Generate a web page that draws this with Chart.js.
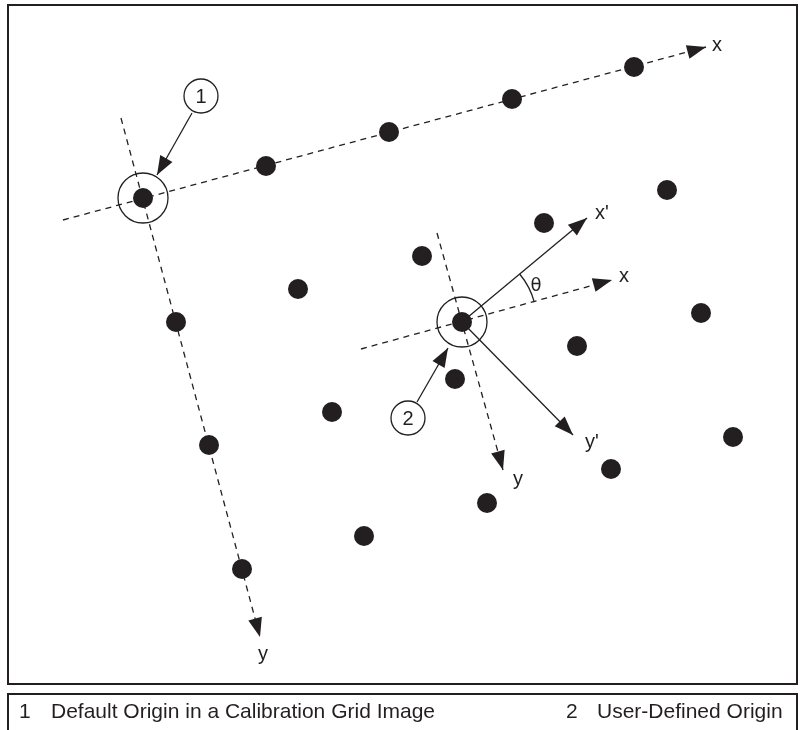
<!DOCTYPE html>
<html>
<head>
<meta charset="utf-8">
<script src="https://cdn.jsdelivr.net/npm/chart.js@4.4.1/dist/chart.umd.min.js"></script>
<style>
  html, body { margin: 0; padding: 0; background: #fff; }
</style>
</head>
<body>
<canvas id="grid" width="800" height="730"></canvas>
<script>
// calibration grid dots, image units (x right, y down)
const gridDots = [
    [143, 198], [266, 166], [389, 132], [512, 99], [634, 67],
    [176, 322], [298, 289], [422, 256], [544, 223], [667, 190],
    [209, 445], [332, 412], [455, 379], [577, 346], [701, 313],
    [242, 569], [364, 536], [487, 503], [611, 469], [733, 437]
];
const defaultOrigin = [143, 198];
const userOrigin = [462, 322];

// axes: [start, tip]
const defaultAxisX = [[63, 220], [706, 47]];
const defaultAxisY = [[121, 118], [260, 637]];
const userAxisX = [[361, 349], [612, 280]];
const userAxisY = [[437, 233], [503, 470]];
const rotatedAxisX = [[462, 322], [587, 218]];
const rotatedAxisY = [[462, 322], [573, 435]];

// numbered callouts: centre, arrow start, arrow tip
const calloutNumbers = ['1', '2'];
const calloutCentres = [[201, 96], [408, 418]];
const calloutArrows = [[[192, 113], [157, 175]], [[417, 402], [448, 348]]];

// axis names
const axisNames = ['x', 'y', "x'", 'x', "y'", 'y'];
const axisNamePos = [[717, 45], [263, 654], [602, 213], [624, 276], [592, 442], [518, 479]];
const thetaPos = [536, 286];

const legendNumbers = ['1', '2'];
const legendTexts = ['Default Origin in a Calibration Grid Image', 'User-Defined Origin'];

const INK = '#231f20';
const pt = p => ({ x: p[0], y: p[1] });

function lineSet(points, dashed, arrow) {
    return {
        type: 'line',
        data: points.map(pt),
        showLine: true,
        borderColor: INK,
        borderWidth: 1.3,
        borderDash: dashed ? [6, 5] : [],
        pointRadius: 0,
        fill: false,
        arrow: arrow,
        order: 5
    };
}

// arrowheads, angle arc, callout numbers, labels, frames
const overlay = {
    id: 'overlay',
    afterDatasetsDraw(chart) {
        const ctx = chart.ctx;
        const sx = chart.scales.x, sy = chart.scales.y;
        const px = p => [sx.getPixelForValue(p[0]), sy.getPixelForValue(p[1])];

        ctx.save();
        ctx.fillStyle = INK;
        chart.data.datasets.forEach(ds => {
            if (!ds.arrow) return;
            const n = ds.data.length;
            const a = px([ds.data[n - 2].x, ds.data[n - 2].y]);
            const b = px([ds.data[n - 1].x, ds.data[n - 1].y]);
            const ang = Math.atan2(b[1] - a[1], b[0] - a[0]);
            const len = 19, half = 7;
            ctx.beginPath();
            ctx.moveTo(b[0], b[1]);
            ctx.lineTo(b[0] - len * Math.cos(ang) - half * Math.sin(ang), b[1] - len * Math.sin(ang) + half * Math.cos(ang));
            ctx.lineTo(b[0] - len * Math.cos(ang) + half * Math.sin(ang), b[1] - len * Math.sin(ang) - half * Math.cos(ang));
            ctx.closePath();
            ctx.fill();
        });

        // theta arc between x and x'
        const o = px(userOrigin);
        const ux = px(userAxisX[1]), ux0 = px(userAxisX[0]);
        const rx = px(rotatedAxisX[1]);
        const a1 = Math.atan2(rx[1] - o[1], rx[0] - o[0]);
        const a2 = Math.atan2(ux[1] - ux0[1], ux[0] - ux0[0]);
        ctx.strokeStyle = INK;
        ctx.lineWidth = 1.3;
        ctx.beginPath();
        ctx.arc(o[0], o[1], 75, a1, a2);
        ctx.stroke();

        ctx.textAlign = 'center';
        ctx.textBaseline = 'middle';
        ctx.font = '20px "Liberation Sans", Arial, sans-serif';
        calloutNumbers.forEach((t, i) => {
            const c = px(calloutCentres[i]);
            ctx.fillText(t, c[0], c[1] + 1);
        });

        ctx.font = '20px "Liberation Sans", Arial, sans-serif';
        axisNames.forEach((t, i) => {
            const c = px(axisNamePos[i]);
            ctx.fillText(t, c[0], c[1]);
        });
        const th = px(thetaPos);
        ctx.font = '18px "DejaVu Sans", sans-serif';
        ctx.fillText('θ', th[0], th[1]);

        // frames
        ctx.lineWidth = 2;
        ctx.strokeRect(8, 5, 789, 679);
        ctx.strokeRect(8, 694, 789, 60);

        // legend row
        ctx.textAlign = 'left';
        ctx.textBaseline = 'alphabetic';
        ctx.font = '21px "Liberation Sans", Arial, sans-serif';
        ctx.fillText(legendNumbers[0], 19, 718);
        ctx.fillText(legendTexts[0], 51, 718);
        ctx.fillText(legendNumbers[1], 566, 718);
        ctx.fillText(legendTexts[1], 597, 718);
        ctx.restore();
    }
};

new Chart(document.getElementById('grid'), {
    type: 'scatter',
    data: {
        datasets: [
            {
                data: gridDots.concat([userOrigin]).map(pt),
                pointRadius: 10,
                backgroundColor: INK,
                borderWidth: 0,
                order: 1
            },
            {
                data: [defaultOrigin, userOrigin].map(pt),
                pointRadius: 25,
                backgroundColor: 'rgba(0,0,0,0)',
                borderColor: INK,
                borderWidth: 1.3,
                order: 2
            },
            {
                data: calloutCentres.map(pt),
                pointRadius: 17,
                backgroundColor: '#fff',
                borderColor: INK,
                borderWidth: 1.3,
                order: 3
            },
            lineSet(defaultAxisX, true, true),
            lineSet(defaultAxisY, true, true),
            lineSet(userAxisX, true, true),
            lineSet(userAxisY, true, true),
            lineSet(rotatedAxisX, false, true),
            lineSet(rotatedAxisY, false, true),
            lineSet(calloutArrows[0], false, true),
            lineSet(calloutArrows[1], false, true)
        ]
    },
    options: {
        responsive: false,
        animation: false,
        devicePixelRatio: 1,
        layout: { padding: 0, autoPadding: false },
        scales: {
            x: { type: 'linear', min: 0, max: 800, display: false },
            y: { type: 'linear', min: 0, max: 730, reverse: true, display: false }
        },
        plugins: {
            legend: { display: false },
            tooltip: { enabled: false }
        },
        events: []
    },
    plugins: [overlay]
});
</script>
</body>
</html>
